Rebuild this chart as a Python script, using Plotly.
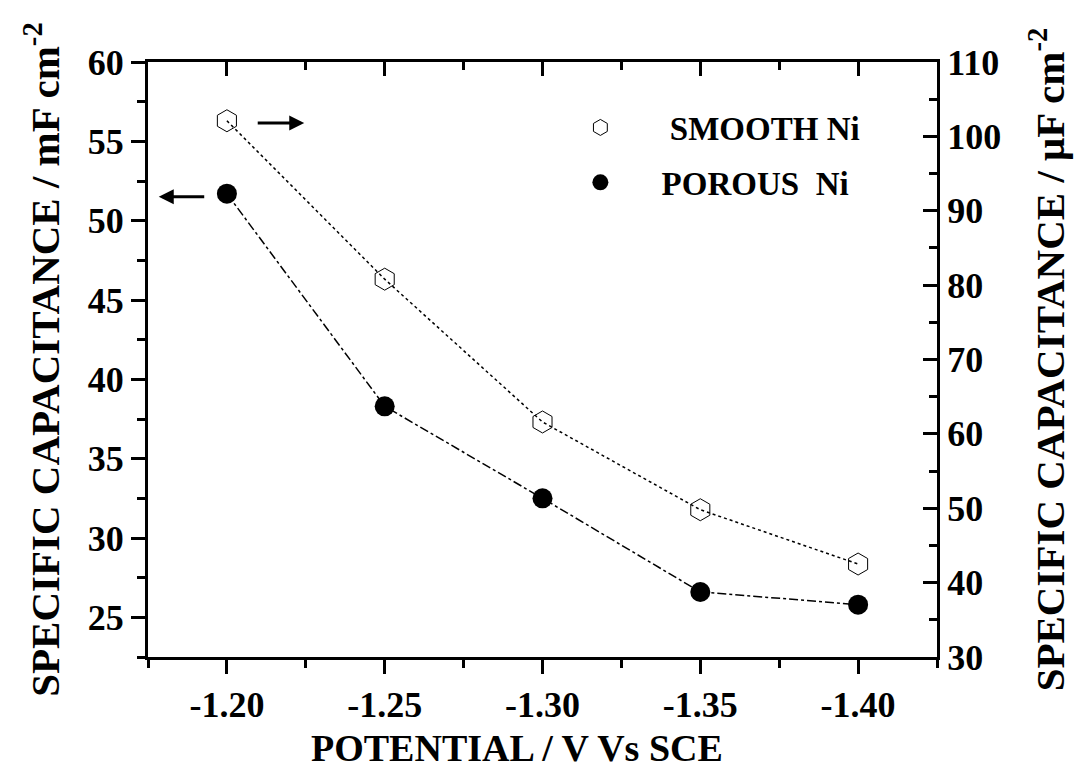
import plotly.graph_objects as go

potential = [-1.20, -1.25, -1.30, -1.35, -1.40]
smooth_uF = [102.1, 80.8, 61.6, 49.8, 42.5]    # right axis, µF cm^-2
porous_mF = [51.7, 38.3, 32.5, 26.6, 25.8]     # left axis, mF cm^-2

x_ticks = [-1.20, -1.25, -1.30, -1.35, -1.40]
x_ticklabels = ["-1.20", "-1.25", "-1.30", "-1.35", "-1.40"]
left_ticks = [25, 30, 35, 40, 45, 50, 55, 60]
right_ticks = [30, 40, 50, 60, 70, 80, 90, 100, 110]

FONT = "Liberation Serif"
NB = "\u00a0"

fig = go.Figure()

fig.add_trace(go.Scatter(
    x=potential, y=smooth_uF, yaxis="y2", mode="lines+markers",
    showlegend=False,
    line=dict(color="black", width=1.5, dash="dot"),
    marker=dict(symbol="hexagon-open", size=22, color="black", line=dict(width=1)),
))
fig.add_trace(go.Scatter(
    x=potential, y=porous_mF, yaxis="y", mode="lines+markers",
    showlegend=False,
    line=dict(color="black", width=1.5, dash="dashdot"),
    marker=dict(symbol="circle", size=20, color="black"),
))
# legend entries (markers only, like the reference)
fig.add_trace(go.Scatter(
    x=[None], y=[None], yaxis="y2", mode="markers",
    name=NB * 6 + "SMOOTH Ni", legendgroup="a",
    marker=dict(symbol="hexagon-open", size=22, color="black", line=dict(width=1)),
))
fig.add_trace(go.Scatter(
    x=[None], y=[None], yaxis="y", mode="markers",
    name=NB * 5 + "POROUS" + NB + NB + "Ni", legendgroup="b",
    marker=dict(symbol="circle", size=20, color="black"),
))
# invisible trace to activate the top axis
fig.add_trace(go.Scatter(x=potential, y=porous_mF, xaxis="x2", yaxis="y",
                         mode="markers", marker=dict(opacity=0), showlegend=False,
                         hoverinfo="skip"))

xr = [-1.175, -1.425]
tickfont = dict(family=FONT, size=36, color="black", weight="bold")
xtitlefont = dict(family=FONT, size=38, color="black", weight="bold")
ytitlefont = dict(family=FONT, size=41, color="black", weight="bold")

fig.update_layout(
    width=1078, height=770,
    margin=dict(l=148, r=141, t=62, b=113),
    paper_bgcolor="white", plot_bgcolor="white",
    showlegend=True,
    legend=dict(x=0.548, y=0.937, xanchor="left", yanchor="top",
                font=dict(family=FONT, size=33, color="black", weight="bold"),
                bgcolor="rgba(0,0,0,0)", tracegroupgap=9, itemsizing="trace"),
    xaxis=dict(
        range=xr, tickvals=x_ticks, ticktext=x_ticklabels, automargin=False,
        ticks="outside", ticklen=14, tickwidth=3, tickcolor="black",
        showline=True, linewidth=3, linecolor="black", showgrid=False, zeroline=False,
        tickfont=tickfont,
        minor=dict(dtick=0.025, tick0=-1.2, ticks="outside", ticklen=8, tickwidth=3,
                   tickcolor="black", showgrid=False),
    ),
    xaxis2=dict(
        range=xr, overlaying="x", side="top", tickvals=x_ticks, automargin=False,
        ticks="inside", ticklen=14, tickwidth=3, tickcolor="black",
        showticklabels=False, showline=True, linewidth=3, linecolor="black",
        showgrid=False, zeroline=False,
        minor=dict(dtick=0.025, tick0=-1.2, ticks="inside", ticklen=8, tickwidth=3,
                   tickcolor="black", showgrid=False),
    ),
    yaxis=dict(
        range=[22.5, 60], tickvals=left_ticks, automargin=False,
        ticks="outside", ticklen=14, tickwidth=3, tickcolor="black",
        showline=True, linewidth=3, linecolor="black", showgrid=False, zeroline=False,
        tickfont=tickfont,
        minor=dict(dtick=2.5, tick0=0, ticks="outside", ticklen=8, tickwidth=3,
                   tickcolor="black", showgrid=False),
        title=dict(text="SPECIFIC CAPACITANCE / mF cm<sup>-2</sup>", font=ytitlefont, standoff=16),
    ),
    yaxis2=dict(
        range=[30, 110], tickvals=right_ticks, overlaying="y", side="right", automargin=False,
        ticks="inside", ticklen=14, tickwidth=3, tickcolor="black",
        showline=True, linewidth=3, linecolor="black", showgrid=False, zeroline=False,
        tickfont=tickfont,
        minor=dict(dtick=5, tick0=0, ticks="inside", ticklen=8, tickwidth=3,
                   tickcolor="black", showgrid=False),
        title=dict(text="SPECIFIC CAPACITANCE / μF cm<sup>-2</sup>", font=ytitlefont, standoff=36),
    ),
)

# x-axis title (placed slightly left of centre, as in the reference)
fig.add_annotation(text="POTENTIAL / V Vs SCE", xref="paper", yref="paper",
                   x=0.4677, y=-0.1895, xanchor="center", yanchor="bottom",
                   showarrow=False, font=xtitlefont, borderpad=0)

# arrows pointing to the relevant axes
fig.add_annotation(x=-1.2245, y=smooth_uF[0] - 0.3, xref="x", yref="y2",
                   ax=-48, ay=0, axref="pixel", ayref="pixel", text="",
                   showarrow=True, arrowhead=2, arrowsize=1, arrowwidth=3, arrowcolor="black")
fig.add_annotation(x=-1.1784, y=porous_mF[0] - 0.2, xref="x", yref="y",
                   ax=47, ay=0, axref="pixel", ayref="pixel", text="",
                   showarrow=True, arrowhead=2, arrowsize=1, arrowwidth=3, arrowcolor="black")

fig.write_html("out.html")
